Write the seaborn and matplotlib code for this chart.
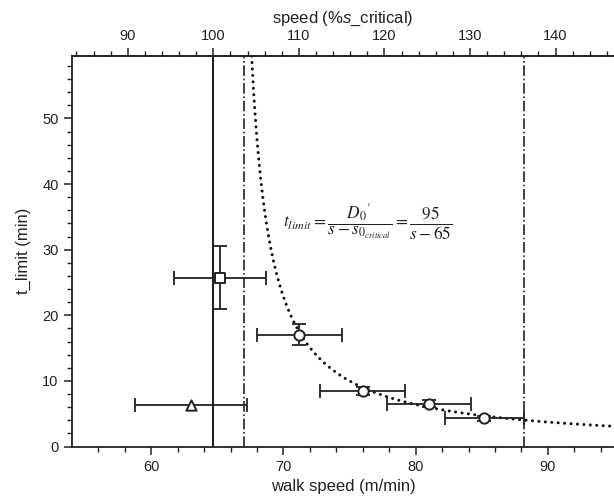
import numpy as np
import pandas as pd
import matplotlib
matplotlib.use("Agg")
import matplotlib.pyplot as plt
import seaborn as sns

# ---- data ----
speed_mean = [65.2, 71.2, 76.0, 81.0, 85.2, 63.0]          # m/min
speed_sd = [3.5, 3.2, 3.2, 3.15, 3.0, 4.25]
tlim_mean = [25.7, 17.0, 8.45, 6.55, 4.3, 6.3]             # min
tlim_sd = [4.8, 1.6, 0.6, 0.6, 0.4, 0.0]
markers = ["s", "o", "o", "o", "o", "^"]

s_critical = 64.7          # solid vertical line (100 %)
dashdot_lines = [67.0, 88.2]
fit_D = 89.0               # hyperbola drawn (dotted)
fit_s0 = 66.1

xlim = (54, 95)
ylim = (0, 59.5)

sns.set_theme(style="ticks")
plt.rcParams["font.family"] = ["Liberation Sans", "DejaVu Sans"]
plt.rcParams["mathtext.fontset"] = "custom"
plt.rcParams["mathtext.rm"] = "Liberation Sans"
plt.rcParams["mathtext.it"] = "Liberation Sans:style=italic"

fig = plt.figure(figsize=(6.14, 4.98), dpi=100)
ax = fig.add_axes([0.117, 0.1034, 0.883, 0.784])

ink = "#222222"

# vertical reference lines
ax.axvline(s_critical, color=ink, lw=1.5, zorder=1)
for v in dashdot_lines:
    ax.axvline(v, color=ink, lw=1.2, ls="-.", zorder=1)

# hyperbolic curve
s_curve = np.linspace(fit_s0 + fit_D / ylim[1], xlim[1], 400)
t_curve = fit_D / (s_curve - fit_s0)
curve = pd.DataFrame({"s": s_curve, "t": t_curve})
sns.lineplot(data=curve, x="s", y="t", ax=ax, color="#111111", lw=2.2,
             sort=False, estimator=None, zorder=2)
ln = ax.lines[-1]
ln.set_dashes((0.01, 2.1))
ln.set_dash_capstyle("round")

# error bars
for xm, xs, ym, ys in zip(speed_mean, speed_sd, tlim_mean, tlim_sd):
    ax.errorbar(xm, ym, xerr=xs, yerr=ys if ys > 0 else None, fmt="none",
                ecolor=ink, elinewidth=1.3, capsize=5, capthick=1.3, zorder=3)

df = pd.DataFrame({"speed": speed_mean, "t": tlim_mean, "m": markers})
for m in ["s", "o", "^"]:
    sub = df[df["m"] == m]
    sns.scatterplot(data=sub, x="speed", y="t", marker=m, s=55,
                    facecolor="white", edgecolor=ink, linewidth=1.4,
                    ax=ax, zorder=4, legend=False)

ax.set_xlim(*xlim)
ax.set_ylim(*ylim)
ax.set_xticks([60, 70, 80, 90])
ax.set_xticks(np.arange(56, 95, 2), minor=True)
ax.set_yticks([0, 10, 20, 30, 40, 50])
ax.set_yticks(np.arange(0, 59.5, 2), minor=True)
ax.tick_params(axis="both", which="major", direction="out", length=6,
               width=1.1, labelsize=10.5, colors=ink, labelcolor="#222222")
ax.tick_params(axis="both", which="minor", direction="out", length=3.5,
               width=1.0, colors=ink)
for side in ["left", "bottom", "top"]:
    ax.spines[side].set_color(ink)
    ax.spines[side].set_linewidth(1.3)
ax.spines["right"].set_visible(False)

ax.set_xlabel("walk speed (m/min)", fontsize=12, color="#222222", labelpad=4)
ax.set_ylabel("t_limit (min)", fontsize=12, color="#222222", labelpad=8)

top = ax.secondary_xaxis("top", functions=(lambda s: s / s_critical * 100,
                                            lambda p: p * s_critical / 100))
top.set_xticks([90, 100, 110, 120, 130, 140])
top.set_xticks(np.arange(84, 148, 2), minor=True)
top.tick_params(axis="x", which="major", direction="out", length=6, width=1.1,
                labelsize=10.5, colors=ink, labelcolor="#222222")
top.tick_params(axis="x", which="minor", direction="out", length=3.5, width=1.0,
                colors=ink)
top.spines["top"].set_color(ink)
top.spines["top"].set_linewidth(1.3)
top.set_xlabel(r"speed (%$s$_critical)", fontsize=12, color="#222222",
               labelpad=4)

eq = ax.text(0.39, 0.575,
             r"$t_{limit}=\dfrac{D_0{}^{\prime}}{s-s_{0_{critical}}}=\dfrac{95}{s-65}$",
             transform=ax.transAxes, fontsize=12.5, color="#222222",
             ha="left", va="center")
eq.set_math_fontfamily("stix")

fig.savefig("out.png", dpi=100)
